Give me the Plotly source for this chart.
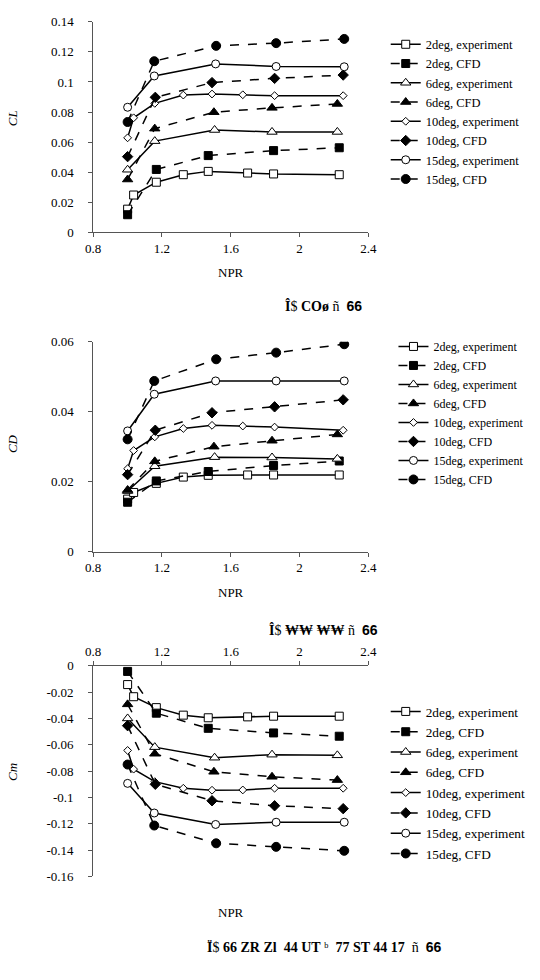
import plotly.graph_objects as go

# ---- data ----
series_names = ["2deg, experiment", "2deg, CFD", "6deg, experiment", "6deg, CFD",
                "10deg, experiment", "10deg, CFD", "15deg, experiment", "15deg, CFD"]

npr_exp_2 = [1.0, 1.035, 1.167, 1.324, 1.469, 1.698, 1.849, 2.231]
npr_cfd_2 = [1.0, 1.167, 1.469, 1.849, 2.231]
npr_exp_6 = [1.0, 1.158, 1.506, 1.84, 2.22]
npr_cfd_6 = [1.0, 1.158, 1.502, 1.84, 2.22]
npr_exp_10 = [1.0, 1.035, 1.158, 1.324, 1.491, 1.67, 1.855, 2.254]
npr_cfd_10 = [1.0, 1.161, 1.491, 1.855, 2.254]
npr_exp_15 = [1.0, 1.155, 1.512, 1.864, 2.26]
npr_cfd_15 = [1.0, 1.155, 1.515, 1.864, 2.26]

cl_exp_2 = [0.0155, 0.0249, 0.0334, 0.0384, 0.0406, 0.0395, 0.0389, 0.0384]
cl_cfd_2 = [0.0118, 0.0419, 0.0511, 0.0544, 0.0563]
cl_exp_6 = [0.0417, 0.0607, 0.0681, 0.0668, 0.0668]
cl_cfd_6 = [0.0352, 0.069, 0.0799, 0.0828, 0.0854]
cl_exp_10 = [0.0629, 0.0762, 0.0858, 0.0913, 0.092, 0.0915, 0.0909, 0.0909]
cl_cfd_10 = [0.0504, 0.0898, 0.0996, 0.1024, 0.1046]
cl_exp_15 = [0.0832, 0.104, 0.112, 0.1103, 0.1101]
cl_cfd_15 = [0.0734, 0.1138, 0.124, 0.1258, 0.1286]

cd_exp_2 = [0.015, 0.0169, 0.0195, 0.0213, 0.0218, 0.0219, 0.0219, 0.0219]
cd_cfd_2 = [0.0141, 0.0202, 0.0229, 0.0246, 0.0259]
cd_exp_6 = [0.0173, 0.0244, 0.027, 0.0269, 0.0265]
cd_cfd_6 = [0.0176, 0.0258, 0.030, 0.0317, 0.0335]
cd_exp_10 = [0.0237, 0.0289, 0.0328, 0.0352, 0.0361, 0.0359, 0.0356, 0.0347]
cd_cfd_10 = [0.022, 0.0347, 0.0397, 0.0414, 0.0434]
cd_exp_15 = [0.0345, 0.045, 0.0488, 0.0488, 0.0488]
cd_cfd_15 = [0.0321, 0.0488, 0.055, 0.0569, 0.0593]

cm_exp_2 = [-0.0143, -0.0235, -0.0318, -0.0375, -0.0395, -0.0388, -0.0383, -0.0383]
cm_cfd_2 = [-0.0043, -0.036, -0.0475, -0.051, -0.0535]
cm_exp_6 = [-0.040, -0.0618, -0.0698, -0.0675, -0.068]
cm_cfd_6 = [-0.0293, -0.0668, -0.0805, -0.0843, -0.0868]
cm_exp_10 = [-0.0643, -0.0785, -0.088, -0.093, -0.0945, -0.0943, -0.093, -0.093]
cm_cfd_10 = [-0.0455, -0.09, -0.1025, -0.1063, -0.1085]
cm_exp_15 = [-0.0893, -0.1118, -0.1205, -0.1188, -0.1188]
cm_cfd_15 = [-0.075, -0.1213, -0.1348, -0.1375, -0.1405]

x_ticks = [0.8, 1.2, 1.6, 2, 2.4]
cl_ticks = [0, 0.02, 0.04, 0.06, 0.08, 0.1, 0.12, 0.14]
cd_ticks = [0, 0.02, 0.04, 0.06]
cm_ticks = [0, -0.02, -0.04, -0.06, -0.08, -0.1, -0.12, -0.14, -0.16]

captions = ["<b>Î</b>$ <b>COø</b> ñ  <span style='font-family:Liberation Sans'><b>66</b></span>",
            "<b>Î</b>$ <b>₩₩ ₩₩</b> ñ  <span style='font-family:Liberation Sans'><b>66</b></span>",
            "<b>Ï</b>$ <b>66 ZR Zl  44 UT</b> ᵇ  <b>77 ST 44 17</b>  ñ  <span style='font-family:Liberation Sans'><b>66</b></span>"]

# ---- styles ----
W, H = 540, 980
SERIF = "Liberation Serif"
npr_list = [npr_exp_2, npr_cfd_2, npr_exp_6, npr_cfd_6, npr_exp_10, npr_cfd_10, npr_exp_15, npr_cfd_15]
panels = [
    dict(vals=[cl_exp_2, cl_cfd_2, cl_exp_6, cl_cfd_6, cl_exp_10, cl_cfd_10, cl_exp_15, cl_cfd_15],
         top=15, bot=229, rng=[0, 0.14], ticks=cl_ticks, title="CL", side="bottom"),
    dict(vals=[cd_exp_2, cd_cfd_2, cd_exp_6, cd_cfd_6, cd_exp_10, cd_cfd_10, cd_exp_15, cd_cfd_15],
         top=340, bot=553, rng=[0, 0.06], ticks=cd_ticks, title="CD", side="bottom"),
    dict(vals=[cm_exp_2, cm_cfd_2, cm_exp_6, cm_cfd_6, cm_exp_10, cm_cfd_10, cm_exp_15, cm_cfd_15],
         top=669, bot=883, rng=[-0.16, 0], ticks=cm_ticks, title="Cm", side="top"),
]
symbols = ["square", "square", "triangle-up", "triangle-up", "diamond", "diamond", "circle", "circle"]
sizes = [8, 8, 9, 9, 6, 8, 8, 9]
legend_pos = [(390, 23), (398, 330), (390, 700)]
legend_font = [12.5, 12, 13.3]
legend_gap = [0, 0, 0]
npr_label_y = [270, 595, 920]
caption_pos = [(326, 304), (326, 633), (327, 955)]
ylabel_y = [113, 443, 777]

X0, X1 = 88, 372
fig = go.Figure()
layout = dict(width=W, height=H, margin=dict(l=0, r=0, t=0, b=0),
              paper_bgcolor="white", plot_bgcolor="white",
              font=dict(family=SERIF, size=13, color="black"))
annotations = []
for p, panel in enumerate(panels):
    sfx = "" if p == 0 else str(p + 1)
    leg = "legend" if p == 0 else "legend" + str(p + 1)
    for i, name in enumerate(series_names):
        exp = (i % 2 == 0)
        fig.add_trace(go.Scatter(
            x=npr_list[i], y=panel["vals"][i], name=name, mode="lines+markers",
            xaxis="x" + sfx, yaxis="y" + sfx, legend=leg, legendgroup=f"{p}_{i}",
            line=dict(color="black", width=1.5, dash="solid" if exp else "dash"),
            marker=dict(symbol=symbols[i], size=sizes[i],
                        color="white" if exp else "black",
                        line=dict(color="black", width=1)),
        ))
    layout["xaxis" + sfx] = dict(
        domain=[X0 / W, X1 / W], range=[0.8, 2.4], tickvals=x_ticks,
        ticktext=[("%g" % v) for v in x_ticks], anchor="y" + sfx, side=panel["side"],
        showline=True, linecolor="#555", linewidth=1, ticks="outside", ticklen=4,
        tickcolor="#555", showgrid=False, zeroline=False,
        tickfont=dict(family=SERIF, size=13))
    layout["yaxis" + sfx] = dict(
        domain=[1 - panel["bot"] / H, 1 - panel["top"] / H], range=panel["rng"],
        tickvals=panel["ticks"], ticktext=[("%g" % v) for v in panel["ticks"]],
        anchor="x" + sfx, showline=True, linecolor="#555", linewidth=1,
        ticks="outside", ticklen=4, tickcolor="#555", showgrid=False, zeroline=False,
        ticklabelstandoff=12, tickfont=dict(family=SERIF, size=13))
    lx, ly = legend_pos[p]
    layout[leg] = dict(x=lx / W, y=1 - ly / H, xanchor="left", yanchor="top",
                       bgcolor="rgba(0,0,0,0)", font=dict(family=SERIF, size=legend_font[p]),
                       tracegroupgap=legend_gap[p], itemwidth=30, traceorder="grouped")
    annotations.append(dict(text="NPR", x=(X0 + X1) / 2 / W, y=1 - npr_label_y[p] / H,
                            xref="paper", yref="paper", showarrow=False,
                            xanchor="center", yanchor="middle",
                            font=dict(family=SERIF, size=13)))
    annotations.append(dict(text="<i>%s</i>" % panel["title"], x=4 / W, y=1 - ylabel_y[p] / H,
                            xref="paper", yref="paper", showarrow=False, textangle=-90,
                            xanchor="center", yanchor="middle",
                            font=dict(family=SERIF, size=13)))
    cx, cy = caption_pos[p]
    annotations.append(dict(text=captions[p], x=cx / W, y=1 - cy / H, xref="paper", yref="paper",
                            showarrow=False, xanchor="center", yanchor="middle",
                            font=dict(family=SERIF, size=14)))
layout["annotations"] = annotations
fig.update_layout(**layout)
fig.write_html("out.html")
